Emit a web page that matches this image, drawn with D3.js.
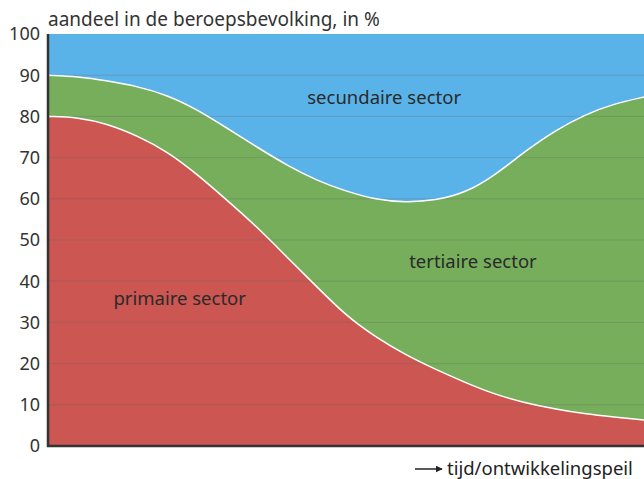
<!DOCTYPE html>
<html>
<head>
<meta charset="utf-8">
<script src="https://cdn.jsdelivr.net/npm/d3@7"></script>
<style>
  body { margin: 0; background: #fff; }
  svg { font-family: "Noto Sans", "Open Sans", sans-serif; }
</style>
</head>
<body>
<svg></svg>
<script>
// Data: share of the working population per sector (%), along time / development level
const tijd = [0, 5, 10, 15, 20, 25, 30, 35, 40, 45, 50, 55, 60, 65, 70, 75, 80, 85, 90, 95, 100];
const primair = [80, 79.8, 78.2, 75.3, 71.5, 66, 59.7, 53.3, 46, 38.8, 31.6, 26.4, 22.1, 18.6, 15.4, 12.5, 10.5, 9.0, 7.8, 7.0, 6.3];
const tertiair = [10, 9.9, 10.4, 12.0, 13.7, 15.7, 17.5, 19.3, 22.2, 25.7, 30.2, 33.4, 37.0, 41.0, 46.0, 53.2, 61.0, 67.5, 72.6, 76.1, 78.4];
const secundair = [10, 10.3, 11.4, 12.7, 14.8, 18.3, 22.8, 27.4, 31.8, 35.5, 38.2, 40.2, 40.9, 40.4, 38.6, 34.3, 28.5, 23.5, 19.6, 16.9, 15.3];
const yTicks = [0, 10, 20, 30, 40, 50, 60, 70, 80, 90, 100];

const width = 644, height = 479;
const svg = d3.select("svg").attr("width", width).attr("height", height);

const margin = {top: 34, left: 48, bottom: 33};
const x = d3.scaleLinear().domain([0, 100]).range([margin.left, width]);
const y = d3.scaleLinear().domain([0, 100]).range([height - margin.bottom, margin.top]);

const rows = tijd.map((t, i) => ({t, primair: primair[i], tertiair: tertiair[i], secundair: secundair[i]}));
const keys = ["primair", "tertiair", "secundair"];
const colors = {primair: "#cb5652", tertiair: "#76ae5c", secundair: "#5ab3e8"};
const stacked = d3.stack().keys(keys)(rows);

const curve = d3.curveBasis;

const area = d3.area()
    .curve(curve)
    .x(d => x(d.data.t))
    .y0(d => y(d[0]))
    .y1(d => y(d[1]));

svg.selectAll("path.layer")
    .data(stacked)
    .join("path")
    .attr("class", "layer")
    .attr("fill", d => colors[d.key])
    .attr("d", area);

// gridlines
svg.append("g")
    .selectAll("line")
    .data(yTicks.slice(1, -1))
    .join("line")
    .attr("x1", margin.left).attr("x2", width)
    .attr("y1", d => y(d)).attr("y2", d => y(d))
    .attr("stroke", "#666")
    .attr("stroke-opacity", 0.3)
    .attr("stroke-width", 1);

// white boundaries between layers
const line = d3.line()
    .curve(curve)
    .x(d => x(d.data.t))
    .y(d => y(d[1]));

svg.selectAll("path.edge")
    .data(stacked.slice(0, 2))
    .join("path")
    .attr("class", "edge")
    .attr("fill", "none")
    .attr("stroke", "#fff")
    .attr("stroke-width", 1.5)
    .attr("d", line);

// axes
svg.append("line")
    .attr("x1", margin.left).attr("x2", margin.left)
    .attr("y1", y(100)).attr("y2", y(0) + 1)
    .attr("stroke", "#333").attr("stroke-width", 2.5);
svg.append("line")
    .attr("x1", margin.left - 1).attr("x2", width)
    .attr("y1", y(0)).attr("y2", y(0))
    .attr("stroke", "#333").attr("stroke-width", 2.5);

svg.append("g")
    .selectAll("text")
    .data(yTicks)
    .join("text")
    .attr("x", 40)
    .attr("y", d => y(d))
    .attr("dy", "0.36em")
    .attr("text-anchor", "end")
    .attr("fill", "#333")
    .style("font-size", "18px")
    .text(d => d);

svg.append("text")
    .attr("x", margin.left)
    .attr("y", 26)
    .attr("fill", "#333")
    .style("font-size", "19px")
    .text("aandeel in de beroepsbevolking, in %");

// x-axis label with arrow
svg.append("defs").append("marker")
    .attr("id", "arrow")
    .attr("viewBox", "0 0 10 10")
    .attr("refX", 9).attr("refY", 5)
    .attr("markerWidth", 7).attr("markerHeight", 7)
    .attr("markerUnits", "userSpaceOnUse")
    .attr("orient", "auto")
    .append("path")
    .attr("d", "M0,0L10,5L0,10Z")
    .attr("fill", "#222");

svg.append("line")
    .attr("x1", 415).attr("x2", 442)
    .attr("y1", 469).attr("y2", 469)
    .attr("stroke", "#222").attr("stroke-width", 1.5)
    .attr("marker-end", "url(#arrow)");

svg.append("text")
    .attr("x", 447)
    .attr("y", 475)
    .attr("fill", "#222")
    .style("font-size", "18.5px")
    .text("tijd/ontwikkelingspeil");

// sector labels
const labels = [
    {text: "secundaire sector", t: 56.4, v: 83.1},
    {text: "tertiaire sector", t: 71.3, v: 43.1},
    {text: "primaire sector", t: 22.1, v: 34.3}
];
svg.append("g")
    .selectAll("text")
    .data(labels)
    .join("text")
    .attr("x", d => x(d.t))
    .attr("y", d => y(d.v))
    .attr("text-anchor", "middle")
    .attr("fill", "#2a2a2a")
    .style("font-size", "18.5px")
    .text(d => d.text);
</script>
</body>
</html>
